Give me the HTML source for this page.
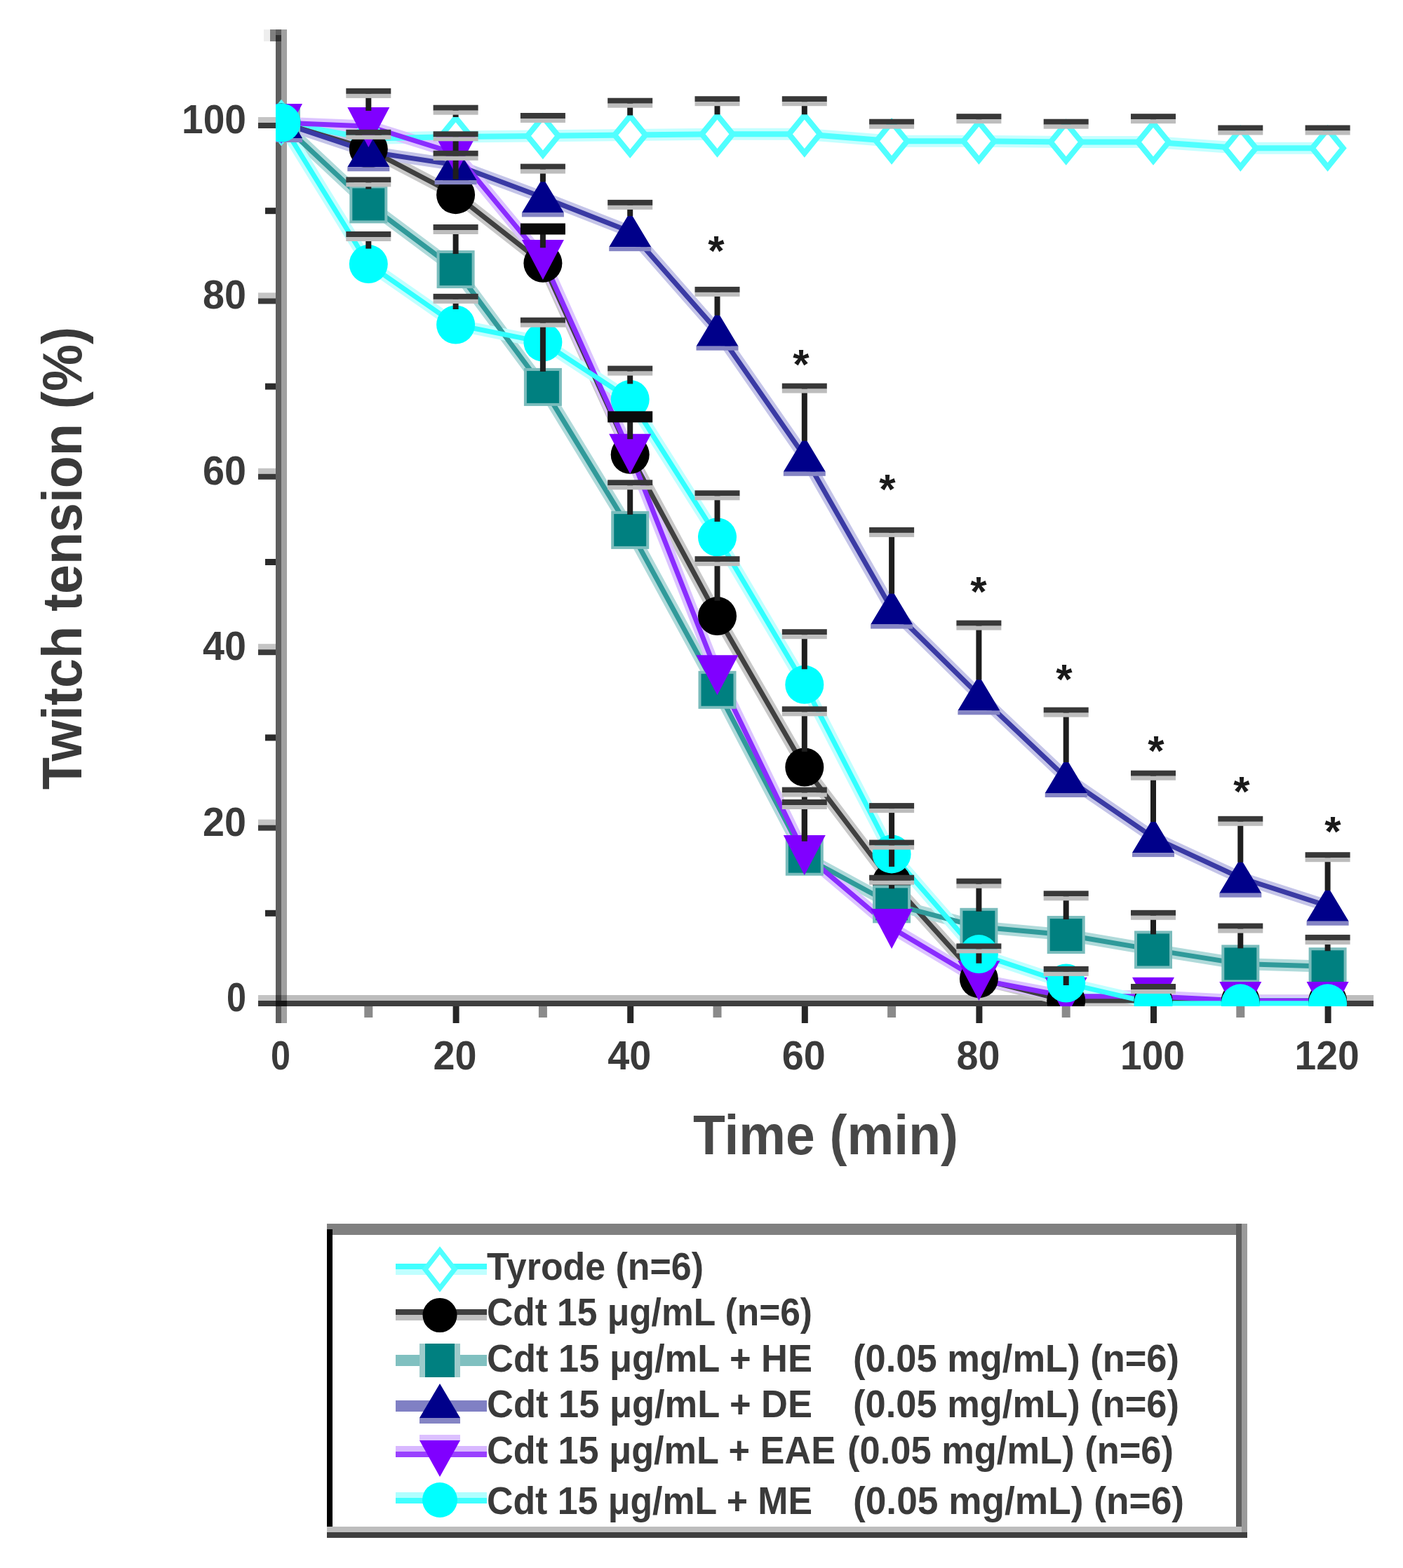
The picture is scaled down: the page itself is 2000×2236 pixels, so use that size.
<!DOCTYPE html>
<html><head><meta charset="utf-8"><title>Twitch tension</title>
<style>
html,body{margin:0;padding:0;background:#fff;}
svg{display:block;}
text{font-family:"Liberation Sans",sans-serif;}
</style></head><body>
<svg width="2000" height="2236" viewBox="0 0 2000 2236">
<rect width="2000" height="2236" fill="#fff"/>
<defs><clipPath id="pc"><rect x="393" y="0" width="1566" height="1435"/></clipPath></defs>
<rect x="393" y="42" width="8" height="1417" fill="#5e5e5e"/>
<rect x="401" y="42" width="8" height="1417" fill="#a0a0a0"/>
<rect x="368" y="1419" width="1590" height="8" fill="#bdbdbd"/>
<rect x="368" y="1427" width="1590" height="8" fill="#3e3e3e"/>
<rect x="393" y="1419" width="8" height="8" fill="#404040"/>
<rect x="401" y="1419" width="8" height="8" fill="#777777"/>
<rect x="393" y="1427" width="16" height="8" fill="#161616"/>
<rect x="368" y="1419.0" width="25" height="8" fill="#c4c4c4"/>
<rect x="368" y="1427.0" width="25" height="8" fill="#3a3a3a"/>
<rect x="378" y="1297.8" width="15" height="9" fill="#2a2a2a"/>
<rect x="368" y="1168.6" width="25" height="8" fill="#c4c4c4"/>
<rect x="368" y="1176.6" width="25" height="8" fill="#3a3a3a"/>
<rect x="378" y="1047.4" width="15" height="9" fill="#2a2a2a"/>
<rect x="368" y="918.2" width="25" height="8" fill="#c4c4c4"/>
<rect x="368" y="926.2" width="25" height="8" fill="#3a3a3a"/>
<rect x="378" y="797.0" width="15" height="9" fill="#2a2a2a"/>
<rect x="368" y="667.8" width="25" height="8" fill="#c4c4c4"/>
<rect x="368" y="675.8" width="25" height="8" fill="#3a3a3a"/>
<rect x="378" y="546.6" width="15" height="9" fill="#2a2a2a"/>
<rect x="368" y="417.4" width="25" height="8" fill="#c4c4c4"/>
<rect x="368" y="425.4" width="25" height="8" fill="#3a3a3a"/>
<rect x="378" y="296.2" width="15" height="9" fill="#2a2a2a"/>
<rect x="368" y="167.0" width="25" height="8" fill="#c4c4c4"/>
<rect x="368" y="175.0" width="25" height="8" fill="#3a3a3a"/>
<rect x="376" y="42" width="9" height="17" fill="#eeeeee"/>
<rect x="385" y="42" width="8" height="17" fill="#808080"/>
<rect x="393" y="50" width="8" height="9" fill="#303030"/>
<rect x="519.3" y="1435" width="12" height="16" fill="#8a8a8a"/>
<rect x="645.6" y="1435" width="9" height="24" fill="#262626"/>
<rect x="767.9" y="1435" width="12" height="16" fill="#8a8a8a"/>
<rect x="894.2" y="1435" width="9" height="24" fill="#262626"/>
<rect x="1016.5" y="1435" width="12" height="16" fill="#8a8a8a"/>
<rect x="1142.8" y="1435" width="9" height="24" fill="#262626"/>
<rect x="1265.1" y="1435" width="12" height="16" fill="#8a8a8a"/>
<rect x="1391.4" y="1435" width="9" height="24" fill="#262626"/>
<rect x="1513.7" y="1435" width="12" height="16" fill="#8a8a8a"/>
<rect x="1640.0" y="1435" width="9" height="24" fill="#262626"/>
<rect x="1762.3" y="1435" width="12" height="16" fill="#8a8a8a"/>
<rect x="1888.6" y="1435" width="9" height="24" fill="#262626"/>
<text x="323" y="1442.0" font-size="57" fill="#3a3a3a" font-weight="bold" textLength="28" lengthAdjust="spacingAndGlyphs">0</text>
<text x="289" y="1191.6" font-size="57" fill="#3a3a3a" font-weight="bold" textLength="62" lengthAdjust="spacingAndGlyphs">20</text>
<text x="289" y="941.2" font-size="57" fill="#3a3a3a" font-weight="bold" textLength="62" lengthAdjust="spacingAndGlyphs">40</text>
<text x="289" y="690.8" font-size="57" fill="#3a3a3a" font-weight="bold" textLength="62" lengthAdjust="spacingAndGlyphs">60</text>
<text x="289" y="440.4" font-size="57" fill="#3a3a3a" font-weight="bold" textLength="62" lengthAdjust="spacingAndGlyphs">80</text>
<text x="259" y="190.0" font-size="57" fill="#3a3a3a" font-weight="bold" textLength="92" lengthAdjust="spacingAndGlyphs">100</text>
<text x="386.0" y="1525" font-size="57" fill="#3a3a3a" font-weight="bold" textLength="28" lengthAdjust="spacingAndGlyphs">0</text>
<text x="617.6" y="1525" font-size="57" fill="#3a3a3a" font-weight="bold" textLength="62" lengthAdjust="spacingAndGlyphs">20</text>
<text x="866.2" y="1525" font-size="57" fill="#3a3a3a" font-weight="bold" textLength="62" lengthAdjust="spacingAndGlyphs">40</text>
<text x="1114.8" y="1525" font-size="57" fill="#3a3a3a" font-weight="bold" textLength="62" lengthAdjust="spacingAndGlyphs">60</text>
<text x="1363.4" y="1525" font-size="57" fill="#3a3a3a" font-weight="bold" textLength="62" lengthAdjust="spacingAndGlyphs">80</text>
<text x="1597.0" y="1525" font-size="57" fill="#3a3a3a" font-weight="bold" textLength="92" lengthAdjust="spacingAndGlyphs">100</text>
<text x="1845.6" y="1525" font-size="57" fill="#3a3a3a" font-weight="bold" textLength="92" lengthAdjust="spacingAndGlyphs">120</text>
<text x="988" y="1646" font-size="80" fill="#484848" font-weight="bold" textLength="378" lengthAdjust="spacingAndGlyphs">Time (min)</text>
<text transform="translate(116,1126) rotate(-90)" x="0" y="0" font-size="80" fill="#3a3a3a" font-weight="bold" textLength="660" lengthAdjust="spacingAndGlyphs">Twitch tension (%)</text>
<g clip-path="url(#pc)">
<polyline points="401.0,175.0 525.3,197.5 649.6,195.0 773.9,193.8 898.2,192.5 1022.5,191.3 1146.8,191.3 1271.1,201.3 1395.4,201.3 1519.7,202.5 1644.0,202.5 1768.3,211.3 1892.6,211.3" fill="none" stroke="#c4ffff" stroke-width="17" stroke-linejoin="round"/>
<polyline points="401.0,175.0 525.3,212.6 649.6,277.7 773.9,375.3 898.2,648.3 1022.5,878.6 1146.8,1094.0 1271.1,1258.0 1395.4,1395.7 1519.7,1427.0 1644.0,1427.0 1768.3,1427.0 1892.6,1427.0" fill="none" stroke="#c8c8c8" stroke-width="17" stroke-linejoin="round"/>
<polyline points="401.0,175.0 525.3,291.4 649.6,384.1 773.9,551.9 898.2,755.9 1022.5,983.8 1146.8,1221.7 1271.1,1289.3 1395.4,1321.8 1519.7,1333.1 1644.0,1354.4 1768.3,1374.4 1892.6,1378.2" fill="none" stroke="#b0dada" stroke-width="17" stroke-linejoin="round"/>
<polyline points="401.0,175.0 525.3,216.3 649.6,235.1 773.9,281.4 898.2,330.2 1022.5,471.7 1146.8,650.8 1271.1,868.6 1395.4,991.3 1519.7,1109.0 1644.0,1194.1 1768.3,1251.7 1892.6,1291.8" fill="none" stroke="#c4c4e8" stroke-width="17" stroke-linejoin="round"/>
<polyline points="401.0,175.0 525.3,180.0 649.6,218.8 773.9,369.1 898.2,645.8 1022.5,961.3 1146.8,1217.9 1271.1,1323.1 1395.4,1397.0 1519.7,1420.7 1644.0,1420.7 1768.3,1427.0 1892.6,1427.0" fill="none" stroke="#dcc4ff" stroke-width="17" stroke-linejoin="round"/>
<polyline points="401.0,175.0 525.3,376.6 649.6,463.0 773.9,488.0 898.2,569.4 1022.5,765.9 1146.8,976.3 1271.1,1217.9 1395.4,1360.6 1519.7,1402.0 1644.0,1430.8 1768.3,1430.8 1892.6,1430.8" fill="none" stroke="#c0ffff" stroke-width="17" stroke-linejoin="round"/>
<polyline points="401.0,175.0 525.3,197.5 649.6,195.0 773.9,193.8 898.2,192.5 1022.5,191.3 1146.8,191.3 1271.1,201.3 1395.4,201.3 1519.7,202.5 1644.0,202.5 1768.3,211.3 1892.6,211.3" fill="none" stroke="#50ffff" stroke-width="8" stroke-linejoin="round"/>
<polyline points="401.0,175.0 525.3,212.6 649.6,277.7 773.9,375.3 898.2,648.3 1022.5,878.6 1146.8,1094.0 1271.1,1258.0 1395.4,1395.7 1519.7,1427.0 1644.0,1427.0 1768.3,1427.0 1892.6,1427.0" fill="none" stroke="#404040" stroke-width="7" stroke-linejoin="round"/>
<polyline points="401.0,175.0 525.3,291.4 649.6,384.1 773.9,551.9 898.2,755.9 1022.5,983.8 1146.8,1221.7 1271.1,1289.3 1395.4,1321.8 1519.7,1333.1 1644.0,1354.4 1768.3,1374.4 1892.6,1378.2" fill="none" stroke="#309a9a" stroke-width="7" stroke-linejoin="round"/>
<polyline points="401.0,175.0 525.3,216.3 649.6,235.1 773.9,281.4 898.2,330.2 1022.5,471.7 1146.8,650.8 1271.1,868.6 1395.4,991.3 1519.7,1109.0 1644.0,1194.1 1768.3,1251.7 1892.6,1291.8" fill="none" stroke="#3a3aa4" stroke-width="7" stroke-linejoin="round"/>
<polyline points="401.0,175.0 525.3,180.0 649.6,218.8 773.9,369.1 898.2,645.8 1022.5,961.3 1146.8,1217.9 1271.1,1323.1 1395.4,1397.0 1519.7,1420.7 1644.0,1420.7 1768.3,1427.0 1892.6,1427.0" fill="none" stroke="#8a2cff" stroke-width="7" stroke-linejoin="round"/>
<polyline points="401.0,175.0 525.3,376.6 649.6,463.0 773.9,488.0 898.2,569.4 1022.5,765.9 1146.8,976.3 1271.1,1217.9 1395.4,1360.6 1519.7,1402.0 1644.0,1430.8 1768.3,1430.8 1892.6,1430.8" fill="none" stroke="#30ffff" stroke-width="7" stroke-linejoin="round"/>
<polygon points="401.0,148.0 423.0,175.0 401.0,202.0 379.0,175.0" fill="#fff" stroke="#50ffff" stroke-width="8"/>
<polygon points="525.3,170.5 547.3,197.5 525.3,224.5 503.3,197.5" fill="#fff" stroke="#50ffff" stroke-width="8"/>
<polygon points="649.6,168.0 671.6,195.0 649.6,222.0 627.6,195.0" fill="#fff" stroke="#50ffff" stroke-width="8"/>
<polygon points="773.9,166.8 795.9,193.8 773.9,220.8 751.9,193.8" fill="#fff" stroke="#50ffff" stroke-width="8"/>
<polygon points="898.2,165.5 920.2,192.5 898.2,219.5 876.2,192.5" fill="#fff" stroke="#50ffff" stroke-width="8"/>
<polygon points="1022.5,164.3 1044.5,191.3 1022.5,218.3 1000.5,191.3" fill="#fff" stroke="#50ffff" stroke-width="8"/>
<polygon points="1146.8,164.3 1168.8,191.3 1146.8,218.3 1124.8,191.3" fill="#fff" stroke="#50ffff" stroke-width="8"/>
<polygon points="1271.1,174.3 1293.1,201.3 1271.1,228.3 1249.1,201.3" fill="#fff" stroke="#50ffff" stroke-width="8"/>
<polygon points="1395.4,174.3 1417.4,201.3 1395.4,228.3 1373.4,201.3" fill="#fff" stroke="#50ffff" stroke-width="8"/>
<polygon points="1519.7,175.5 1541.7,202.5 1519.7,229.5 1497.7,202.5" fill="#fff" stroke="#50ffff" stroke-width="8"/>
<polygon points="1644.0,175.5 1666.0,202.5 1644.0,229.5 1622.0,202.5" fill="#fff" stroke="#50ffff" stroke-width="8"/>
<polygon points="1768.3,184.3 1790.3,211.3 1768.3,238.3 1746.3,211.3" fill="#fff" stroke="#50ffff" stroke-width="8"/>
<polygon points="1892.6,184.3 1914.6,211.3 1892.6,238.3 1870.6,211.3" fill="#fff" stroke="#50ffff" stroke-width="8"/>
<circle cx="401.0" cy="175.0" r="27.5" fill="#000"/>
<circle cx="525.3" cy="212.6" r="27.5" fill="#000"/>
<circle cx="649.6" cy="277.7" r="27.5" fill="#000"/>
<circle cx="773.9" cy="375.3" r="27.5" fill="#000"/>
<circle cx="898.2" cy="648.3" r="27.5" fill="#000"/>
<circle cx="1022.5" cy="878.6" r="27.5" fill="#000"/>
<circle cx="1146.8" cy="1094.0" r="27.5" fill="#000"/>
<circle cx="1271.1" cy="1258.0" r="27.5" fill="#000"/>
<circle cx="1395.4" cy="1395.7" r="27.5" fill="#000"/>
<circle cx="1519.7" cy="1427.0" r="27.5" fill="#000"/>
<circle cx="1644.0" cy="1427.0" r="27.5" fill="#000"/>
<circle cx="1768.3" cy="1427.0" r="27.5" fill="#000"/>
<circle cx="1892.6" cy="1427.0" r="27.5" fill="#000"/>
<rect x="376.0" y="150.0" width="50.0" height="50.0" fill="#008080" stroke="#7abcbc" stroke-width="4"/>
<rect x="500.3" y="266.4" width="50.0" height="50.0" fill="#008080" stroke="#7abcbc" stroke-width="4"/>
<rect x="624.6" y="359.1" width="50.0" height="50.0" fill="#008080" stroke="#7abcbc" stroke-width="4"/>
<rect x="748.9" y="526.9" width="50.0" height="50.0" fill="#008080" stroke="#7abcbc" stroke-width="4"/>
<rect x="873.2" y="730.9" width="50.0" height="50.0" fill="#008080" stroke="#7abcbc" stroke-width="4"/>
<rect x="997.5" y="958.8" width="50.0" height="50.0" fill="#008080" stroke="#7abcbc" stroke-width="4"/>
<rect x="1121.8" y="1196.7" width="50.0" height="50.0" fill="#008080" stroke="#7abcbc" stroke-width="4"/>
<rect x="1246.1" y="1264.3" width="50.0" height="50.0" fill="#008080" stroke="#7abcbc" stroke-width="4"/>
<rect x="1370.4" y="1296.8" width="50.0" height="50.0" fill="#008080" stroke="#7abcbc" stroke-width="4"/>
<rect x="1494.7" y="1308.1" width="50.0" height="50.0" fill="#008080" stroke="#7abcbc" stroke-width="4"/>
<rect x="1619.0" y="1329.4" width="50.0" height="50.0" fill="#008080" stroke="#7abcbc" stroke-width="4"/>
<rect x="1743.3" y="1349.4" width="50.0" height="50.0" fill="#008080" stroke="#7abcbc" stroke-width="4"/>
<rect x="1867.6" y="1353.2" width="50.0" height="50.0" fill="#008080" stroke="#7abcbc" stroke-width="4"/>
<polygon points="401.0,147.0 431.0,197.0 371.0,197.0" fill="#00008a"/><rect x="371.0" y="197.0" width="60.0" height="6" fill="#8484c4"/>
<polygon points="525.3,188.3 555.3,238.3 495.3,238.3" fill="#00008a"/><rect x="495.3" y="238.3" width="60.0" height="6" fill="#8484c4"/>
<polygon points="649.6,207.1 679.6,257.1 619.6,257.1" fill="#00008a"/><rect x="619.6" y="257.1" width="60.0" height="6" fill="#8484c4"/>
<polygon points="773.9,253.4 803.9,303.4 743.9,303.4" fill="#00008a"/><rect x="743.9" y="303.4" width="60.0" height="6" fill="#8484c4"/>
<polygon points="898.2,302.2 928.2,352.2 868.2,352.2" fill="#00008a"/><rect x="868.2" y="352.2" width="60.0" height="6" fill="#8484c4"/>
<polygon points="1022.5,443.7 1052.5,493.7 992.5,493.7" fill="#00008a"/><rect x="992.5" y="493.7" width="60.0" height="6" fill="#8484c4"/>
<polygon points="1146.8,622.8 1176.8,672.8 1116.8,672.8" fill="#00008a"/><rect x="1116.8" y="672.8" width="60.0" height="6" fill="#8484c4"/>
<polygon points="1271.1,840.6 1301.1,890.6 1241.1,890.6" fill="#00008a"/><rect x="1241.1" y="890.6" width="60.0" height="6" fill="#8484c4"/>
<polygon points="1395.4,963.3 1425.4,1013.3 1365.4,1013.3" fill="#00008a"/><rect x="1365.4" y="1013.3" width="60.0" height="6" fill="#8484c4"/>
<polygon points="1519.7,1081.0 1549.7,1131.0 1489.7,1131.0" fill="#00008a"/><rect x="1489.7" y="1131.0" width="60.0" height="6" fill="#8484c4"/>
<polygon points="1644.0,1166.1 1674.0,1216.1 1614.0,1216.1" fill="#00008a"/><rect x="1614.0" y="1216.1" width="60.0" height="6" fill="#8484c4"/>
<polygon points="1768.3,1223.7 1798.3,1273.7 1738.3,1273.7" fill="#00008a"/><rect x="1738.3" y="1273.7" width="60.0" height="6" fill="#8484c4"/>
<polygon points="1892.6,1263.8 1922.6,1313.8 1862.6,1313.8" fill="#00008a"/><rect x="1862.6" y="1313.8" width="60.0" height="6" fill="#8484c4"/>
<polygon points="371.0,148.0 431.0,148.0 401.0,205.0" fill="#8000ff"/>
<polygon points="495.3,153.0 555.3,153.0 525.3,210.0" fill="#8000ff"/>
<polygon points="619.6,191.8 679.6,191.8 649.6,248.8" fill="#8000ff"/>
<polygon points="743.9,342.1 803.9,342.1 773.9,399.1" fill="#8000ff"/>
<polygon points="868.2,618.8 928.2,618.8 898.2,675.8" fill="#8000ff"/>
<polygon points="992.5,934.3 1052.5,934.3 1022.5,991.3" fill="#8000ff"/>
<polygon points="1116.8,1190.9 1176.8,1190.9 1146.8,1247.9" fill="#8000ff"/>
<polygon points="1241.1,1296.1 1301.1,1296.1 1271.1,1353.1" fill="#8000ff"/>
<polygon points="1365.4,1370.0 1425.4,1370.0 1395.4,1427.0" fill="#8000ff"/>
<polygon points="1489.7,1393.7 1549.7,1393.7 1519.7,1450.7" fill="#8000ff"/>
<polygon points="1614.0,1393.7 1674.0,1393.7 1644.0,1450.7" fill="#8000ff"/>
<polygon points="1738.3,1400.0 1798.3,1400.0 1768.3,1457.0" fill="#8000ff"/>
<polygon points="1862.6,1400.0 1922.6,1400.0 1892.6,1457.0" fill="#8000ff"/>
<circle cx="401.0" cy="175.0" r="27.5" fill="#00ffff"/>
<circle cx="525.3" cy="376.6" r="27.5" fill="#00ffff"/>
<circle cx="649.6" cy="463.0" r="27.5" fill="#00ffff"/>
<circle cx="773.9" cy="488.0" r="27.5" fill="#00ffff"/>
<circle cx="898.2" cy="569.4" r="27.5" fill="#00ffff"/>
<circle cx="1022.5" cy="765.9" r="27.5" fill="#00ffff"/>
<circle cx="1146.8" cy="976.3" r="27.5" fill="#00ffff"/>
<circle cx="1271.1" cy="1217.9" r="27.5" fill="#00ffff"/>
<circle cx="1395.4" cy="1360.6" r="27.5" fill="#00ffff"/>
<circle cx="1519.7" cy="1402.0" r="27.5" fill="#00ffff"/>
<circle cx="1644.0" cy="1430.8" r="27.5" fill="#00ffff"/>
<circle cx="1768.3" cy="1430.8" r="27.5" fill="#00ffff"/>
<circle cx="1892.6" cy="1430.8" r="27.5" fill="#00ffff"/>
<rect x="645.6" y="153.7" width="8" height="13.3" fill="#1e1e1e"/>
<rect x="617.6" y="149.7" width="64" height="8" fill="#383838"/>
<rect x="617.6" y="157.7" width="64" height="6" fill="#bdbdbd"/>
<rect x="769.9" y="165.0" width="8" height="0.8" fill="#1e1e1e"/>
<rect x="741.9" y="161.0" width="64" height="8" fill="#383838"/>
<rect x="741.9" y="169.0" width="64" height="6" fill="#bdbdbd"/>
<rect x="894.2" y="143.7" width="8" height="20.8" fill="#1e1e1e"/>
<rect x="866.2" y="139.7" width="64" height="8" fill="#383838"/>
<rect x="866.2" y="147.7" width="64" height="6" fill="#bdbdbd"/>
<rect x="1018.5" y="141.2" width="8" height="22.1" fill="#1e1e1e"/>
<rect x="990.5" y="137.2" width="64" height="8" fill="#383838"/>
<rect x="990.5" y="145.2" width="64" height="6" fill="#bdbdbd"/>
<rect x="1142.8" y="141.2" width="8" height="22.1" fill="#1e1e1e"/>
<rect x="1114.8" y="137.2" width="64" height="8" fill="#383838"/>
<rect x="1114.8" y="145.2" width="64" height="6" fill="#bdbdbd"/>
<rect x="1239.1" y="169.7" width="64" height="8" fill="#383838"/>
<rect x="1239.1" y="177.7" width="64" height="6" fill="#bdbdbd"/>
<rect x="1391.4" y="166.2" width="8" height="7.1" fill="#1e1e1e"/>
<rect x="1363.4" y="162.2" width="64" height="8" fill="#383838"/>
<rect x="1363.4" y="170.2" width="64" height="6" fill="#bdbdbd"/>
<rect x="1515.7" y="173.7" width="8" height="0.8" fill="#1e1e1e"/>
<rect x="1487.7" y="169.7" width="64" height="8" fill="#383838"/>
<rect x="1487.7" y="177.7" width="64" height="6" fill="#bdbdbd"/>
<rect x="1640.0" y="166.2" width="8" height="8.3" fill="#1e1e1e"/>
<rect x="1612.0" y="162.2" width="64" height="8" fill="#383838"/>
<rect x="1612.0" y="170.2" width="64" height="6" fill="#bdbdbd"/>
<rect x="1764.3" y="182.5" width="8" height="0.8" fill="#1e1e1e"/>
<rect x="1736.3" y="178.5" width="64" height="8" fill="#383838"/>
<rect x="1736.3" y="186.5" width="64" height="6" fill="#bdbdbd"/>
<rect x="1888.6" y="182.5" width="8" height="0.8" fill="#1e1e1e"/>
<rect x="1860.6" y="178.5" width="64" height="8" fill="#383838"/>
<rect x="1860.6" y="186.5" width="64" height="6" fill="#bdbdbd"/>
<rect x="521.3" y="188.8" width="8" height="1.8" fill="#1e1e1e"/>
<rect x="493.3" y="184.8" width="64" height="8" fill="#383838"/>
<rect x="493.3" y="192.8" width="64" height="6" fill="#bdbdbd"/>
<rect x="645.6" y="191.3" width="8" height="64.4" fill="#1e1e1e"/>
<rect x="617.6" y="187.3" width="64" height="8" fill="#383838"/>
<rect x="617.6" y="195.3" width="64" height="6" fill="#bdbdbd"/>
<rect x="769.9" y="326.5" width="8" height="26.8" fill="#1e1e1e"/>
<rect x="741.9" y="318.5" width="64" height="16" fill="#0a0a0a"/>
<rect x="894.2" y="594.4" width="8" height="31.8" fill="#1e1e1e"/>
<rect x="866.2" y="586.4" width="64" height="16" fill="#0a0a0a"/>
<rect x="1018.5" y="797.2" width="8" height="59.4" fill="#1e1e1e"/>
<rect x="990.5" y="793.2" width="64" height="8" fill="#383838"/>
<rect x="990.5" y="801.2" width="64" height="6" fill="#bdbdbd"/>
<rect x="1142.8" y="1011.3" width="8" height="60.6" fill="#1e1e1e"/>
<rect x="1114.8" y="1007.3" width="64" height="8" fill="#383838"/>
<rect x="1114.8" y="1015.3" width="64" height="6" fill="#bdbdbd"/>
<rect x="1267.1" y="1201.6" width="8" height="34.3" fill="#1e1e1e"/>
<rect x="1239.1" y="1197.6" width="64" height="8" fill="#383838"/>
<rect x="1239.1" y="1205.6" width="64" height="6" fill="#bdbdbd"/>
<rect x="1391.4" y="1349.4" width="8" height="24.3" fill="#1e1e1e"/>
<rect x="1363.4" y="1345.4" width="64" height="8" fill="#383838"/>
<rect x="1363.4" y="1353.4" width="64" height="6" fill="#bdbdbd"/>
<rect x="1515.7" y="1381.9" width="8" height="23.1" fill="#1e1e1e"/>
<rect x="1487.7" y="1377.9" width="64" height="8" fill="#383838"/>
<rect x="1487.7" y="1385.9" width="64" height="6" fill="#bdbdbd"/>
<rect x="1612.0" y="1403.0" width="64" height="8" fill="#383838"/>
<rect x="1612.0" y="1411.0" width="64" height="6" fill="#bdbdbd"/>
<rect x="521.3" y="256.4" width="8" height="13.1" fill="#1e1e1e"/>
<rect x="493.3" y="252.4" width="64" height="8" fill="#383838"/>
<rect x="493.3" y="260.4" width="64" height="6" fill="#bdbdbd"/>
<rect x="645.6" y="324.0" width="8" height="38.1" fill="#1e1e1e"/>
<rect x="617.6" y="320.0" width="64" height="8" fill="#383838"/>
<rect x="617.6" y="328.0" width="64" height="6" fill="#bdbdbd"/>
<rect x="769.9" y="456.7" width="8" height="73.2" fill="#1e1e1e"/>
<rect x="741.9" y="452.7" width="64" height="8" fill="#383838"/>
<rect x="741.9" y="460.7" width="64" height="6" fill="#bdbdbd"/>
<rect x="894.2" y="688.3" width="8" height="45.6" fill="#1e1e1e"/>
<rect x="866.2" y="684.3" width="64" height="8" fill="#383838"/>
<rect x="866.2" y="692.3" width="64" height="6" fill="#bdbdbd"/>
<rect x="1142.8" y="1126.5" width="8" height="73.2" fill="#1e1e1e"/>
<rect x="1114.8" y="1122.5" width="64" height="8" fill="#383838"/>
<rect x="1114.8" y="1130.5" width="64" height="6" fill="#bdbdbd"/>
<rect x="1267.1" y="1251.7" width="8" height="15.6" fill="#1e1e1e"/>
<rect x="1239.1" y="1247.7" width="64" height="8" fill="#383838"/>
<rect x="1239.1" y="1255.7" width="64" height="6" fill="#bdbdbd"/>
<rect x="1391.4" y="1256.7" width="8" height="43.1" fill="#1e1e1e"/>
<rect x="1363.4" y="1252.7" width="64" height="8" fill="#383838"/>
<rect x="1363.4" y="1260.7" width="64" height="6" fill="#bdbdbd"/>
<rect x="1515.7" y="1274.3" width="8" height="36.8" fill="#1e1e1e"/>
<rect x="1487.7" y="1270.3" width="64" height="8" fill="#383838"/>
<rect x="1487.7" y="1278.3" width="64" height="6" fill="#bdbdbd"/>
<rect x="1640.0" y="1301.8" width="8" height="30.6" fill="#1e1e1e"/>
<rect x="1612.0" y="1297.8" width="64" height="8" fill="#383838"/>
<rect x="1612.0" y="1305.8" width="64" height="6" fill="#bdbdbd"/>
<rect x="1764.3" y="1320.6" width="8" height="31.8" fill="#1e1e1e"/>
<rect x="1736.3" y="1316.6" width="64" height="8" fill="#383838"/>
<rect x="1736.3" y="1324.6" width="64" height="6" fill="#bdbdbd"/>
<rect x="1888.6" y="1336.9" width="8" height="19.3" fill="#1e1e1e"/>
<rect x="1860.6" y="1332.9" width="64" height="8" fill="#383838"/>
<rect x="1860.6" y="1340.9" width="64" height="6" fill="#bdbdbd"/>
<rect x="617.6" y="214.8" width="64" height="8" fill="#383838"/>
<rect x="617.6" y="222.8" width="64" height="6" fill="#bdbdbd"/>
<rect x="769.9" y="237.6" width="8" height="21.8" fill="#1e1e1e"/>
<rect x="741.9" y="233.6" width="64" height="8" fill="#383838"/>
<rect x="741.9" y="241.6" width="64" height="6" fill="#bdbdbd"/>
<rect x="894.2" y="288.9" width="8" height="19.3" fill="#1e1e1e"/>
<rect x="866.2" y="284.9" width="64" height="8" fill="#383838"/>
<rect x="866.2" y="292.9" width="64" height="6" fill="#bdbdbd"/>
<rect x="1018.5" y="412.9" width="8" height="36.8" fill="#1e1e1e"/>
<rect x="990.5" y="408.9" width="64" height="8" fill="#383838"/>
<rect x="990.5" y="416.9" width="64" height="6" fill="#bdbdbd"/>
<rect x="1142.8" y="550.6" width="8" height="78.2" fill="#1e1e1e"/>
<rect x="1114.8" y="546.6" width="64" height="8" fill="#383838"/>
<rect x="1114.8" y="554.6" width="64" height="6" fill="#bdbdbd"/>
<rect x="1267.1" y="755.9" width="8" height="90.7" fill="#1e1e1e"/>
<rect x="1239.1" y="751.9" width="64" height="8" fill="#383838"/>
<rect x="1239.1" y="759.9" width="64" height="6" fill="#bdbdbd"/>
<rect x="1391.4" y="888.6" width="8" height="80.7" fill="#1e1e1e"/>
<rect x="1363.4" y="884.6" width="64" height="8" fill="#383838"/>
<rect x="1363.4" y="892.6" width="64" height="6" fill="#bdbdbd"/>
<rect x="1515.7" y="1012.6" width="8" height="74.4" fill="#1e1e1e"/>
<rect x="1487.7" y="1008.6" width="64" height="8" fill="#383838"/>
<rect x="1487.7" y="1016.6" width="64" height="6" fill="#bdbdbd"/>
<rect x="1640.0" y="1102.7" width="8" height="69.4" fill="#1e1e1e"/>
<rect x="1612.0" y="1098.7" width="64" height="8" fill="#383838"/>
<rect x="1612.0" y="1106.7" width="64" height="6" fill="#bdbdbd"/>
<rect x="1764.3" y="1167.8" width="8" height="61.9" fill="#1e1e1e"/>
<rect x="1736.3" y="1163.8" width="64" height="8" fill="#383838"/>
<rect x="1736.3" y="1171.8" width="64" height="6" fill="#bdbdbd"/>
<rect x="1888.6" y="1219.2" width="8" height="50.6" fill="#1e1e1e"/>
<rect x="1860.6" y="1215.2" width="64" height="8" fill="#383838"/>
<rect x="1860.6" y="1223.2" width="64" height="6" fill="#bdbdbd"/>
<rect x="521.3" y="129.9" width="8" height="28.1" fill="#1e1e1e"/>
<rect x="493.3" y="125.9" width="64" height="8" fill="#383838"/>
<rect x="493.3" y="133.9" width="64" height="6" fill="#bdbdbd"/>
<rect x="1142.8" y="1144.0" width="8" height="51.9" fill="#1e1e1e"/>
<rect x="1114.8" y="1140.0" width="64" height="8" fill="#383838"/>
<rect x="1114.8" y="1148.0" width="64" height="6" fill="#bdbdbd"/>
<rect x="521.3" y="334.0" width="8" height="20.6" fill="#1e1e1e"/>
<rect x="493.3" y="330.0" width="64" height="8" fill="#383838"/>
<rect x="493.3" y="338.0" width="64" height="6" fill="#bdbdbd"/>
<rect x="645.6" y="422.9" width="8" height="18.1" fill="#1e1e1e"/>
<rect x="617.6" y="418.9" width="64" height="8" fill="#383838"/>
<rect x="617.6" y="426.9" width="64" height="6" fill="#bdbdbd"/>
<rect x="894.2" y="525.6" width="8" height="21.8" fill="#1e1e1e"/>
<rect x="866.2" y="521.6" width="64" height="8" fill="#383838"/>
<rect x="866.2" y="529.6" width="64" height="6" fill="#bdbdbd"/>
<rect x="1018.5" y="703.3" width="8" height="40.6" fill="#1e1e1e"/>
<rect x="990.5" y="699.3" width="64" height="8" fill="#383838"/>
<rect x="990.5" y="707.3" width="64" height="6" fill="#bdbdbd"/>
<rect x="1142.8" y="901.2" width="8" height="53.1" fill="#1e1e1e"/>
<rect x="1114.8" y="897.2" width="64" height="8" fill="#383838"/>
<rect x="1114.8" y="905.2" width="64" height="6" fill="#bdbdbd"/>
<rect x="1267.1" y="1149.1" width="8" height="46.9" fill="#1e1e1e"/>
<rect x="1239.1" y="1145.1" width="64" height="8" fill="#383838"/>
<rect x="1239.1" y="1153.1" width="64" height="6" fill="#bdbdbd"/>
</g>
<text x="1021.0" y="377.5" font-size="60" font-weight="bold" text-anchor="middle" fill="#1a1a1a">*</text>
<text x="1142.0" y="539.5" font-size="60" font-weight="bold" text-anchor="middle" fill="#1a1a1a">*</text>
<text x="1265.0" y="717.5" font-size="60" font-weight="bold" text-anchor="middle" fill="#1a1a1a">*</text>
<text x="1395.0" y="863.5" font-size="60" font-weight="bold" text-anchor="middle" fill="#1a1a1a">*</text>
<text x="1517.0" y="988.5" font-size="60" font-weight="bold" text-anchor="middle" fill="#1a1a1a">*</text>
<text x="1648.0" y="1090.5" font-size="60" font-weight="bold" text-anchor="middle" fill="#1a1a1a">*</text>
<text x="1770.0" y="1148.5" font-size="60" font-weight="bold" text-anchor="middle" fill="#1a1a1a">*</text>
<text x="1900.0" y="1205.5" font-size="60" font-weight="bold" text-anchor="middle" fill="#1a1a1a">*</text>
<rect x="466" y="1745" width="1312" height="448" fill="#fff"/>
<rect x="466" y="1745" width="1312" height="16" fill="#808080"/>
<rect x="466" y="1753" width="8" height="440" fill="#000"/>
<rect x="1762" y="1745" width="8" height="448" fill="#5e5e5e"/>
<rect x="1770" y="1745" width="8" height="448" fill="#9a9a9a"/>
<rect x="466" y="2177" width="1304" height="8" fill="#bdbdbd"/>
<rect x="466" y="2185" width="1312" height="8" fill="#3e3e3e"/>
<rect x="564" y="1802" width="130" height="8" fill="#40ffff"/>
<rect x="564" y="1810" width="130" height="8" fill="#c0ffff"/>
<polygon points="627.0,1783.0 648.0,1810.0 627.0,1837.0 606.0,1810.0" fill="#fff" stroke="#50ffff" stroke-width="7"/>
<text x="694" y="1825" font-size="56" fill="#3a3a3a" font-weight="bold" textLength="309" lengthAdjust="spacingAndGlyphs">Tyrode (n=6)</text>
<rect x="564" y="1867" width="130" height="8" fill="#404040"/>
<rect x="564" y="1875" width="130" height="8" fill="#c0c0c0"/>
<circle cx="627.0" cy="1875.5" r="24.5" fill="#000"/>
<text x="694" y="1890" font-size="56" fill="#3a3a3a" font-weight="bold" textLength="464" lengthAdjust="spacingAndGlyphs">Cdt 15 μg/mL (n=6)</text>
<rect x="564" y="1932" width="130" height="8" fill="#80c0c0"/>
<rect x="564" y="1940" width="130" height="8" fill="#80c0c0"/>
<rect x="598.0" y="1916.0" width="58" height="48" fill="#9ccaca"/><rect x="606.0" y="1916.0" width="42" height="48" fill="#008080"/>
<text x="694" y="1956" font-size="56" fill="#3a3a3a" font-weight="bold" textLength="464" lengthAdjust="spacingAndGlyphs">Cdt 15 μg/mL + HE</text>
<text x="1216" y="1956" font-size="56" fill="#3a3a3a" font-weight="bold" textLength="465" lengthAdjust="spacingAndGlyphs">(0.05 mg/mL) (n=6)</text>
<rect x="564" y="1997" width="130" height="8" fill="#8080c4"/>
<rect x="564" y="2005" width="130" height="8" fill="#8080c4"/>
<polygon points="627.0,1973.0 656.0,2022.0 598.0,2022.0" fill="#00008a"/><rect x="598.0" y="2022.0" width="58.0" height="8" fill="#8484c4"/>
<text x="694" y="2021" font-size="56" fill="#3a3a3a" font-weight="bold" textLength="464" lengthAdjust="spacingAndGlyphs">Cdt 15 μg/mL + DE</text>
<text x="1216" y="2021" font-size="56" fill="#3a3a3a" font-weight="bold" textLength="465" lengthAdjust="spacingAndGlyphs">(0.05 mg/mL) (n=6)</text>
<rect x="564" y="2062" width="130" height="8" fill="#d8b8ff"/>
<rect x="564" y="2070" width="130" height="8" fill="#9a40ff"/>
<rect x="598.0" y="2046.0" width="58" height="8" fill="#dcc0ff"/><polygon points="598.0,2054.0 656.0,2054.0 627.0,2106.0" fill="#8000ff"/>
<text x="694" y="2087" font-size="56" fill="#3a3a3a" font-weight="bold" textLength="497" lengthAdjust="spacingAndGlyphs">Cdt 15 μg/mL + EAE</text>
<text x="1208" y="2087" font-size="56" fill="#3a3a3a" font-weight="bold" textLength="465" lengthAdjust="spacingAndGlyphs">(0.05 mg/mL) (n=6)</text>
<rect x="564" y="2128" width="130" height="8" fill="#b0ffff"/>
<rect x="564" y="2136" width="130" height="8" fill="#40ffff"/>
<circle cx="627.0" cy="2139.0" r="25" fill="#00ffff"/>
<text x="694" y="2159" font-size="56" fill="#3a3a3a" font-weight="bold" textLength="464" lengthAdjust="spacingAndGlyphs">Cdt 15 μg/mL + ME</text>
<text x="1216" y="2159" font-size="56" fill="#3a3a3a" font-weight="bold" textLength="472" lengthAdjust="spacingAndGlyphs">(0.05 mg/mL) (n=6)</text>
</svg>
</body></html>
